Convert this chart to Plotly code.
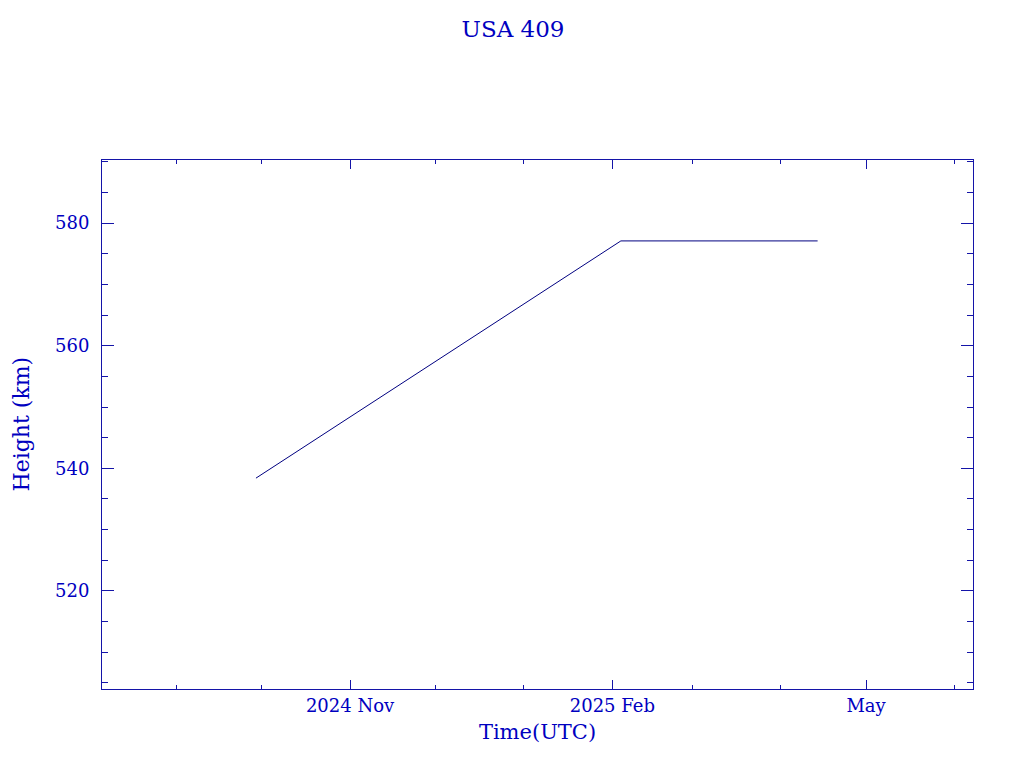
import plotly.graph_objects as go

# Data
dates = ["2024-09-29", "2025-02-04", "2025-04-14"]
height_km = [538.4, 577.1, 577.1]

x_tick_vals = ["2024-11-01", "2025-02-01", "2025-05-01"]
x_tick_text = ["2024 Nov", "2025 Feb", "May"]
y_tick_vals = [520, 540, 560, 580]

title_text = "USA 409"
x_title = "Time(UTC)"
y_title = "Height (km)"

axis_color = "#1414a8"
text_color = "#0000c0"
line_color = "#000080"
font_family = "DejaVu Serif"

fig = go.Figure()
fig.add_trace(go.Scatter(
    x=dates, y=height_km, mode="lines",
    line=dict(color=line_color, width=1),
    showlegend=False, hoverinfo="skip",
))

# page body has an 8px margin, so figure coordinates are offset by 8px
L, R, T, B = 94, 59, 152, 87
plot_w = 1024 - L - R

fig.update_layout(
    width=1024, height=768,
    margin=dict(l=L, r=R, t=T, b=B),
    paper_bgcolor="white", plot_bgcolor="white",
    font=dict(family=font_family, color=text_color, size=18),
    title=dict(text=title_text, x=505 / 1024, xanchor="center", y=1 - 21 / 768, yanchor="middle",
               font=dict(size=23, color=text_color, family=font_family)),
)

fig.add_annotation(
    text=y_title, textangle=-90, showarrow=False,
    xref="paper", yref="paper",
    x=(13 - L) / plot_w, y=0.5, xanchor="center", yanchor="middle",
    font=dict(size=22, color=text_color, family=font_family),
)

fig.update_xaxes(
    type="date",
    range=["2024-08-06", "2025-06-07 12:00"],
    automargin=False,
    showgrid=False, zeroline=False,
    showline=True, linecolor=axis_color, linewidth=1, mirror="ticks",
    ticks="inside", ticklen=9, tickwidth=1, tickcolor=axis_color,
    tickvals=x_tick_vals, ticktext=x_tick_text,
    tickfont=dict(size=18, color=text_color, family=font_family),
    minor=dict(ticks="inside", ticklen=4, tickwidth=1, tickcolor=axis_color,
               dtick="M1", tick0="2024-08-01", showgrid=False),
    title=dict(text=x_title, font=dict(size=21, color=text_color, family=font_family), standoff=9),
)

fig.update_yaxes(
    range=[504, 590.3],
    automargin=False,
    showgrid=False, zeroline=False,
    showline=True, linecolor=axis_color, linewidth=1, mirror="ticks",
    ticks="inside", ticklen=12, tickwidth=1, tickcolor=axis_color,
    tickvals=y_tick_vals,
    tickfont=dict(size=18, color=text_color, family=font_family),
    ticklabelstandoff=8,
    minor=dict(ticks="inside", ticklen=6, tickwidth=1, tickcolor=axis_color,
               dtick=5, tick0=505, showgrid=False),
)

fig.write_html("out.html")
